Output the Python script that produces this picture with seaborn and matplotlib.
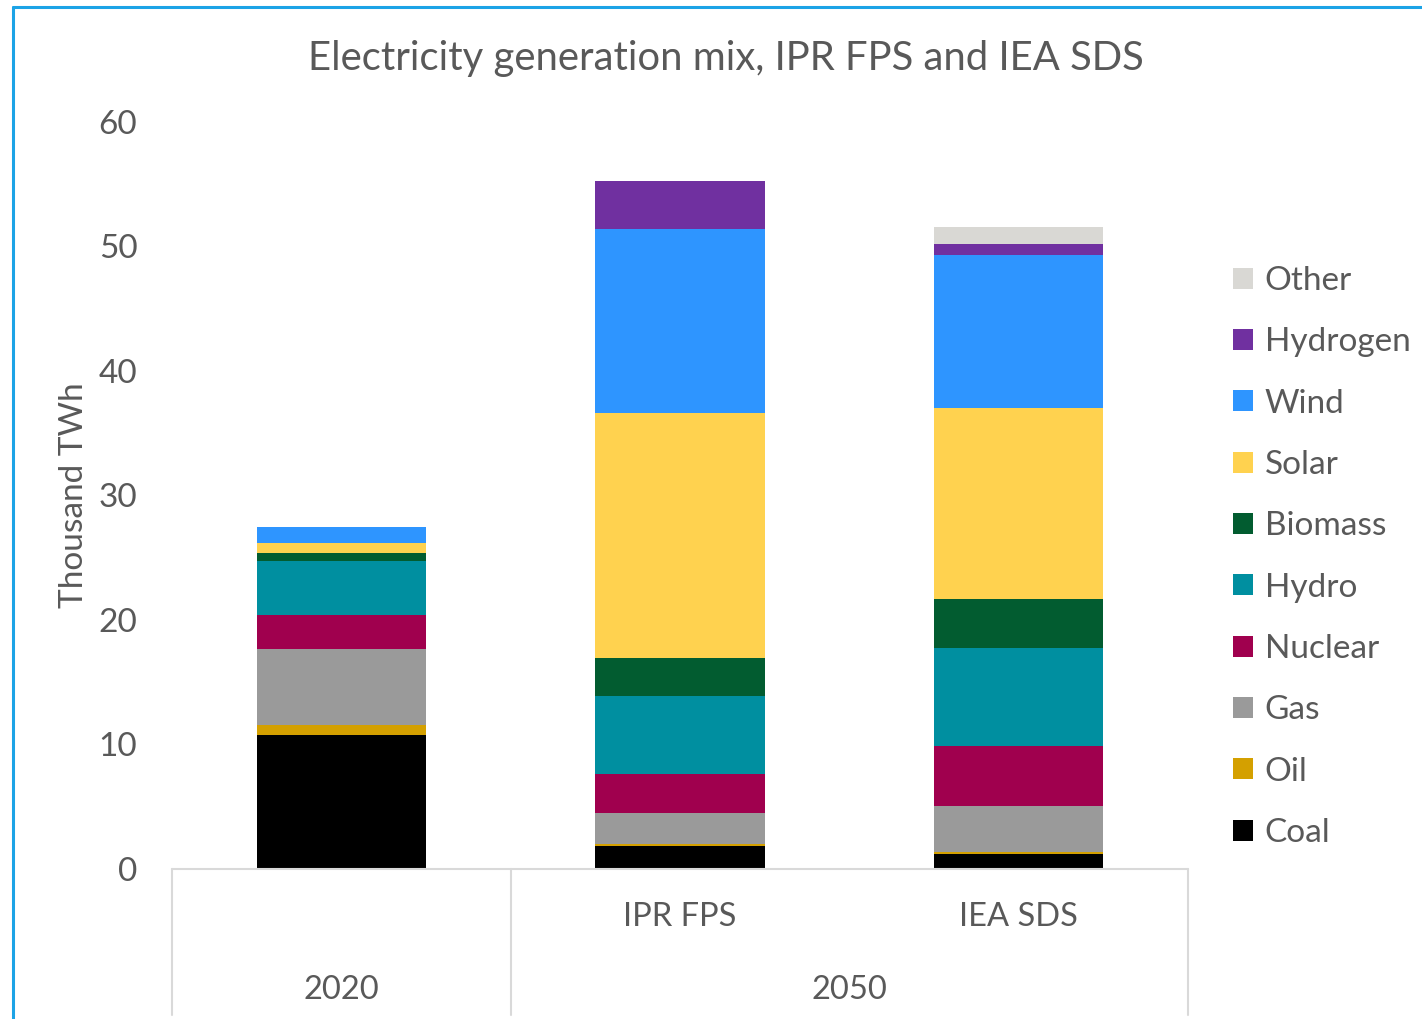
import matplotlib

matplotlib.use("Agg")

import matplotlib.pyplot as plt
import numpy as np
import pandas as pd
import seaborn as sns
from matplotlib.lines import Line2D
from matplotlib.patches import Patch

# values, thousand TWh
SCENARIOS = ["2020", "IPR FPS", "IEA SDS"]
SOURCES = ["Coal", "Oil", "Gas", "Nuclear", "Hydro", "Biomass", "Solar", "Wind", "Hydrogen", "Other"]
COAL = [10.79, 1.87, 1.23]
OIL = [0.78, 0.14, 0.16]
GAS = [6.13, 2.49, 3.67]
NUCLEAR = [2.67, 3.16, 4.82]
HYDRO = [4.37, 6.21, 7.87]
BIOMASS = [0.61, 3.08, 3.94]
SOLAR = [0.83, 19.68, 15.34]
WIND = [1.27, 14.78, 12.31]
HYDROGEN = [0.0, 3.85, 0.86]
OTHER = [0.0, 0.0, 1.39]

COLORS = {
    "Coal": "#000000",
    "Oil": "#d4a000",
    "Gas": "#9a9a9a",
    "Nuclear": "#a0004e",
    "Hydro": "#008fa0",
    "Biomass": "#025c30",
    "Solar": "#ffd24f",
    "Wind": "#2e95ff",
    "Hydrogen": "#7030a0",
    "Other": "#d9d8d4",
}
TEXT = "#595959"
AXIS_LINE = "#d9d9d9"

sns.set_theme(style="white")
plt.rcParams["font.family"] = ["Lato", "DejaVu Sans"]

values = pd.DataFrame(
    dict(zip(SOURCES, [COAL, OIL, GAS, NUCLEAR, HYDRO, BIOMASS, SOLAR, WIND, HYDROGEN, OTHER])),
    index=SCENARIOS,
)
cumulative = values.cumsum(axis=1)

fig = plt.figure(figsize=(14.22, 10.19), dpi=100)
ax = fig.add_axes([0.121, 0.1472, 0.7144, 0.7331])

# stacked look: draw the tallest cumulative bar first, then cover from the top down
for source in SOURCES[::-1]:
    frame = pd.DataFrame({"scenario": SCENARIOS, "value": cumulative[source].values})
    sns.barplot(
        data=frame, x="scenario", y="value", order=SCENARIOS,
        color=COLORS[source], saturation=1, width=0.5, errorbar=None,
        linewidth=0, ax=ax,
    )

ax.set_xlim(-0.5, 2.5)
ax.set_ylim(0, 60)
ax.set_yticks(np.arange(0, 61, 10))
ax.tick_params(axis="y", labelsize=24, labelcolor=TEXT, length=0, pad=25)
ax.set_xticks([])
ax.set_xlabel("")
ax.set_ylabel("Thousand TWh", fontsize=24, color=TEXT, labelpad=7)
for spine in ax.spines.values():
    spine.set_visible(False)
ax.grid(False)

# two-level category axis like the spreadsheet original
trans = ax.get_xaxis_transform()
ax.plot([-0.5, 2.5], [0, 0], transform=trans, color=AXIS_LINE, lw=1.5, clip_on=False)
for xpos in [-0.5, 0.5, 2.5]:
    ax.plot([xpos, xpos], [0, -0.195], transform=trans, color=AXIS_LINE, lw=1.5, clip_on=False)
ax.text(1, -0.064, "IPR FPS", transform=trans, ha="center", va="center", fontsize=23.5, color=TEXT)
ax.text(2, -0.064, "IEA SDS", transform=trans, ha="center", va="center", fontsize=23.5, color=TEXT)
ax.text(0, -0.162, "2020", transform=trans, ha="center", va="center", fontsize=23.5, color=TEXT)
ax.text(1.5, -0.162, "2050", transform=trans, ha="center", va="center", fontsize=23.5, color=TEXT)

fig.text(0.5105, 0.943, "Electricity generation mix, IPR FPS and IEA SDS",
         ha="center", va="center", fontsize=28.8, color=TEXT)

handles = [Patch(facecolor=COLORS[s], edgecolor="none") for s in SOURCES[::-1]]
fig.legend(
    handles, SOURCES[::-1], loc="center left", bbox_to_anchor=(0.867, 0.4535),
    frameon=False, fontsize=24, labelcolor=TEXT, handlelength=0.6, handleheight=0.6,
    handletextpad=0.35, labelspacing=0.94, borderaxespad=0, borderpad=0,
)

# chart frame edge visible at the top and left of the crop
fig.add_artist(Line2D([13 / 1422, 13 / 1422], [0, 1 - 7 / 1019], color="#1ca3e6", lw=2.2))
fig.add_artist(Line2D([13 / 1422, 1], [1 - 7 / 1019, 1 - 7 / 1019], color="#1ca3e6", lw=2.2))

fig.savefig("out.png", dpi=100)
